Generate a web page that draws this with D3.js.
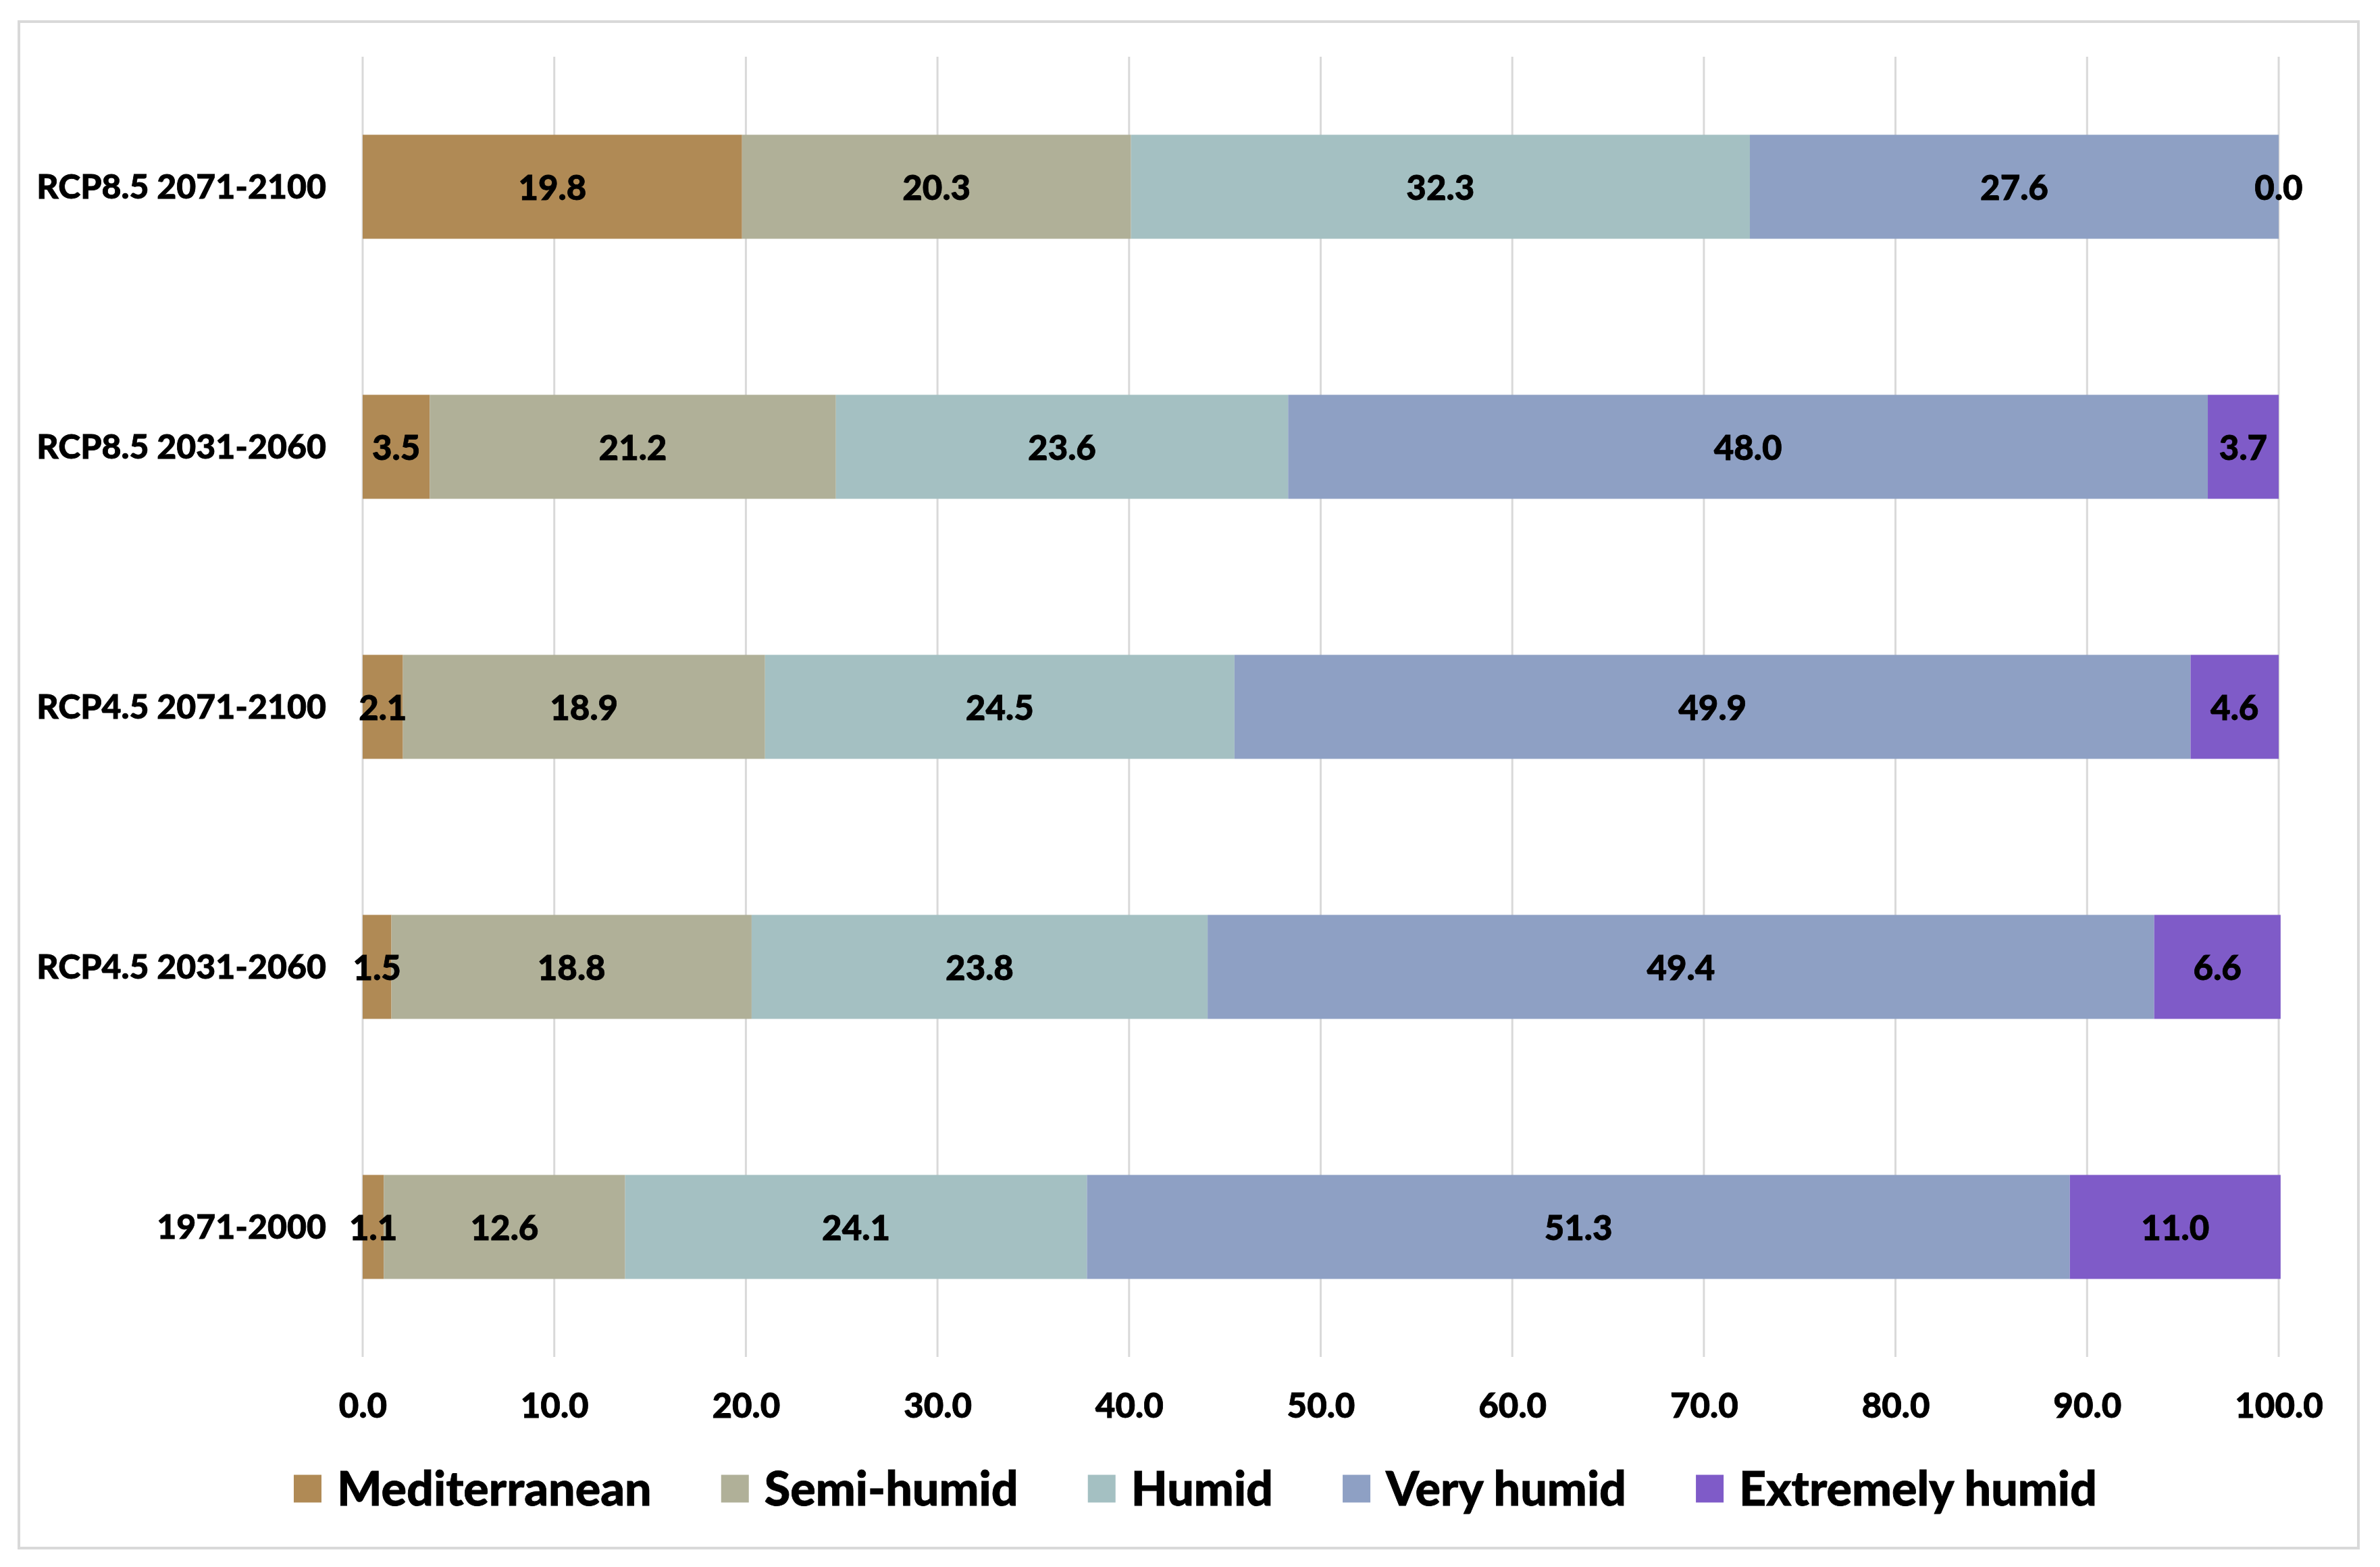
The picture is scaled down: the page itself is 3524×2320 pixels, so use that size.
<!DOCTYPE html>
<html>
<head>
<meta charset="utf-8">
<script src="https://cdn.jsdelivr.net/npm/d3@7"></script>
<style>
  html, body { margin: 0; padding: 0; background: #ffffff; }
  svg { display: block; }
  text { font-family: Lato, "Open Sans", "Noto Sans", sans-serif; font-weight: 900; fill: #000; stroke: #000; stroke-width: 0.8px; }
</style>
</head>
<body>
<svg id="chart" width="3524" height="2320"></svg>
<script>
// ---- data (top-to-bottom display order) ----
const categories = ["RCP8.5 2071-2100", "RCP8.5 2031-2060", "RCP4.5 2071-2100", "RCP4.5 2031-2060", "1971-2000"];
const seriesNames = ["Mediterranean", "Semi-humid", "Humid", "Very humid", "Extremely humid"];
const mediterranean = [19.8, 3.5, 2.1, 1.5, 1.1];
const semiHumid     = [20.3, 21.2, 18.9, 18.8, 12.6];
const humid         = [32.3, 23.6, 24.5, 23.8, 24.1];
const veryHumid     = [27.6, 48.0, 49.9, 49.4, 51.3];
const extremelyHumid= [0.0, 3.7, 4.6, 6.6, 11.0];
const tickValues = [0, 10, 20, 30, 40, 50, 60, 70, 80, 90, 100];
const colors = ["#B08A55", "#B0B098", "#A4C0C2", "#8EA0C4", "#7F5BC8"];

const seriesValues = [mediterranean, semiHumid, humid, veryHumid, extremelyHumid];
const rows = categories.map((c, i) => {
  const r = { category: c };
  seriesNames.forEach((s, j) => r[s] = seriesValues[j][i]);
  return r;
});

const svg = d3.select("#chart");

// outer frame
svg.append("rect")
  .attr("x", 28).attr("y", 32).attr("width", 3464).attr("height", 2260)
  .attr("fill", "#fff").attr("stroke", "#d9d9d9").attr("stroke-width", 4);

const plot = { left: 537, right: 3374, top: 84, bottom: 2009 };

const x = d3.scaleLinear().domain([0, 100]).range([plot.left, plot.right]);
const y = d3.scaleBand().domain(categories).range([plot.top, plot.bottom]).paddingInner(0.6).paddingOuter(0.3);

// gridlines
svg.append("g").selectAll("line").data(tickValues).join("line")
  .attr("x1", d => x(d)).attr("x2", d => x(d))
  .attr("y1", plot.top).attr("y2", plot.bottom)
  .attr("stroke", "#d9d9d9").attr("stroke-width", 3);

// stacked bars
const stack = d3.stack().keys(seriesNames);
const stacked = stack(rows);

const layers = svg.append("g").selectAll("g").data(stacked).join("g")
  .attr("fill", (d, i) => colors[i]);

layers.selectAll("rect").data(d => d).join("rect")
  .attr("x", d => x(d[0]))
  .attr("width", d => Math.max(0, x(d[1]) - x(d[0])))
  .attr("y", d => y(d.data.category))
  .attr("height", y.bandwidth());

// data labels
const labels = svg.append("g");
stacked.forEach((layer, i) => {
  labels.selectAll(null).data(layer).join("text")
    .attr("x", d => (x(d[0]) + x(d[1])) / 2)
    .attr("y", d => y(d.data.category) + y.bandwidth() / 2)
    .attr("text-anchor", "middle")
    .attr("dominant-baseline", "central")
    .attr("font-size", 51)
    .text(d => (d[1] - d[0]).toFixed(1));
});

// x axis (labels only)
const xAxis = d3.axisBottom(x).tickValues(tickValues).tickFormat(d => d.toFixed(1)).tickSize(0).tickPadding(0);
const gx = svg.append("g").attr("transform", `translate(0, ${plot.bottom})`).call(xAxis);
gx.select(".domain").remove();
gx.selectAll("text")
  .attr("y", 72).attr("dy", "0.35em")
  .attr("font-size", 51)
  .style("font-family", "Lato, 'Open Sans', sans-serif").style("font-weight", 900).attr("fill", "#000");

// y axis (labels only)
const yAxis = d3.axisLeft(y).tickSize(0).tickPadding(0);
const gy = svg.append("g").attr("transform", `translate(${plot.left}, 0)`).call(yAxis);
gy.select(".domain").remove();
gy.selectAll("text")
  .attr("x", -54).attr("dy", "0.35em")
  .attr("font-size", 50)
  .style("font-family", "Lato, 'Open Sans', sans-serif").style("font-weight", 900).attr("fill", "#000");

// legend
const legend = svg.append("g");
const sw = 41, gapText = 23, gapItem = 103;
const items = legend.selectAll("g").data(seriesNames).join("g");
items.append("rect").attr("width", sw).attr("height", sw).attr("y", -sw / 2)
  .attr("fill", (d, i) => colors[i]);
items.append("text").attr("x", sw + gapText).attr("dy", "0.35em")
  .attr("font-size", 70).text(d => d);
let cursor = 0;
const offsets = [];
items.each(function () {
  const w = sw + gapText + this.querySelector("text").getComputedTextLength();
  offsets.push(cursor);
  cursor += w + gapItem;
});
const total = cursor - gapItem;
const start = 1770 - total / 2;
items.attr("transform", (d, i) => `translate(${start + offsets[i]}, 2204)`);
</script>
</body>
</html>
